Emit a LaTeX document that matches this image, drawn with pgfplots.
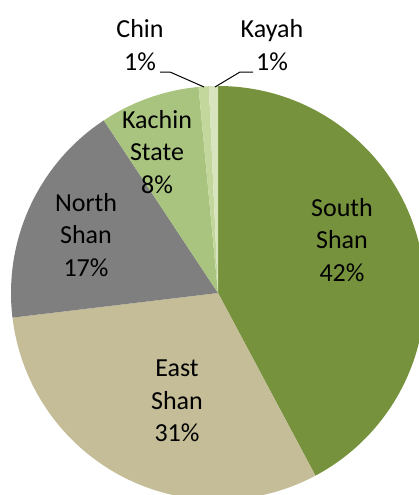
\documentclass[border=0pt]{standalone}
\usepackage{fontspec}
\setmainfont{Carlito}
\usepackage{pgfplots}
\pgfplotsset{compat=1.18}

\definecolor{cSouth}{HTML}{76923C}
\definecolor{cEast}{HTML}{C4BD97}
\definecolor{cNorth}{HTML}{7F7F7F}
\definecolor{cKachin}{HTML}{A9C47F}
\definecolor{cChin}{HTML}{C3D69B}
\definecolor{cKayah}{HTML}{D7E4BD}

\begin{document}
\begin{tikzpicture}
\begin{axis}[
    hide axis,
    scale only axis,
    width=419pt, height=495pt,
    xmin=0, xmax=419,
    ymin=0, ymax=495,
    y dir=reverse,
    clip=true,
  ]
  \path (axis cs:0,0) rectangle (axis cs:419,495);
  % shares in percent, clockwise from 12 o'clock
  \pgfplotsextra{
    \def\start{90}
    \foreach \v/\col in {42.2/cSouth,30.9/cEast,17.6/cNorth,7.8/cKachin,0.8/cChin,0.7/cKayah}{
      \pgfmathsetmacro\en{\start-3.6*\v}
      \fill[\col] (axis cs:218,293) -- ++(\start:207pt)
        arc[start angle=\start, end angle=\en, radius=207pt] -- cycle;
      \global\let\start\en
    }
  }
  % leader lines
  \draw[black, line width=1pt] (axis cs:160,72) -- (axis cs:170,72) -- (axis cs:204,87);
  \draw[black, line width=1pt] (axis cs:253,72) -- (axis cs:240,72) -- (axis cs:215,87);
  % labels
  \begin{scope}[every node/.style={align=center, font=\fontsize{26}{32.5}\selectfont, inner sep=0pt}]
    \node at (axis cs:342,240) {South\\Shan\\42\%};
    \node at (axis cs:177,401) {East\\Shan\\31\%};
    \node at (axis cs:86,235) {North\\Shan\\17\%};
    \node at (axis cs:157,152) {Kachin\\State\\8\%};
    \node at (axis cs:140,45) {Chin\\1\%};
    \node at (axis cs:272,45) {Kayah\\1\%};
  \end{scope}
\end{axis}
\end{tikzpicture}
\end{document}
